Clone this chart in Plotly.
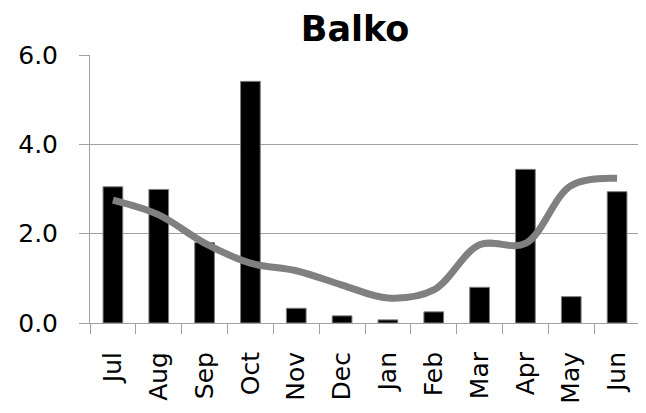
import plotly.graph_objects as go

months = ["Jul", "Aug", "Sep", "Oct", "Nov", "Dec", "Jan", "Feb", "Mar", "Apr", "May", "Jun"]
bar_values = [3.05, 2.99, 1.80, 5.41, 0.33, 0.16, 0.07, 0.25, 0.80, 3.44, 0.59, 2.94]
line_values = [2.75, 2.42, 1.79, 1.34, 1.17, 0.85, 0.56, 0.74, 1.75, 1.78, 3.08, 3.24]
y_ticks = [0, 2, 4, 6]
y_tick_labels = ["0.0", "2.0", "4.0", "6.0"]

fig = go.Figure()
fig.add_trace(go.Bar(
    x=months, y=bar_values,
    marker=dict(color="black", line=dict(color="#7f7f7f", width=1)),
    width=0.43,
))
fig.add_trace(go.Scatter(
    x=months, y=line_values, mode="lines",
    line=dict(color="#808080", width=7, shape="spline", smoothing=1.0),
))

fig.update_layout(
    width=638, height=405,
    margin=dict(l=82, r=6, t=47, b=90, autoexpand=False),
    paper_bgcolor="white", plot_bgcolor="white",
    showlegend=False,
    title=dict(text="<b>Balko</b>", x=0.544, xanchor="center", y=0.95, yanchor="middle",
               font=dict(family="DejaVu Sans", size=35, color="black")),
    font=dict(family="DejaVu Sans", size=25, color="black"),
)
fig.update_xaxes(
    tickangle=-90, tickson="boundaries", ticks="outside", ticklen=10,
    tickcolor="#a0a0a0", showline=True, linecolor="#a0a0a0", linewidth=1,
    showgrid=False, ticklabelstandoff=18, range=[-0.5, 11.5], automargin=False,
)
fig.update_yaxes(
    range=[0, 6], tickvals=y_ticks, ticktext=y_tick_labels,
    ticks="outside", ticklen=10, tickcolor="#a0a0a0",
    showline=True, linecolor="#a0a0a0", linewidth=1,
    showgrid=True, gridcolor="#a0a0a0", gridwidth=1,
    zeroline=False, ticklabelstandoff=16, automargin=False,
)
fig.write_html("out.html")
